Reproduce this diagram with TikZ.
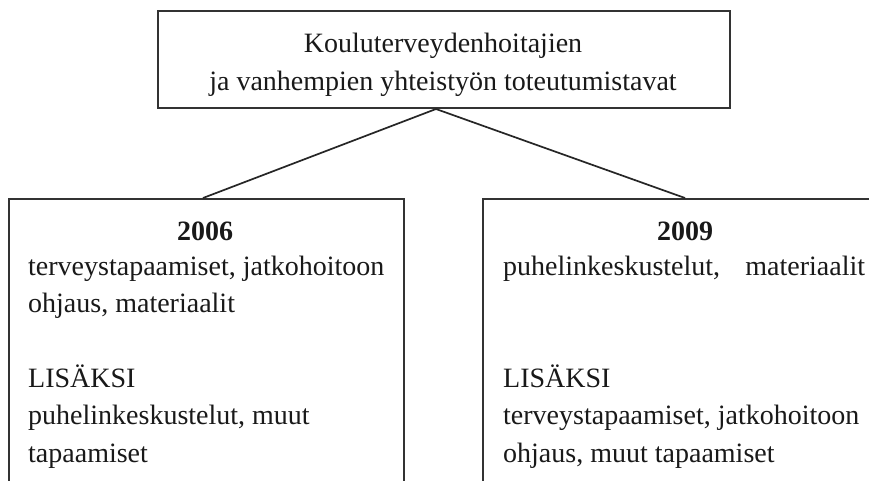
\documentclass[tikz,border=0pt]{standalone}
\usepackage{fontspec}
\setmainfont{Liberation Serif}
\usetikzlibrary{calc}
\begin{document}
\begin{tikzpicture}[x=1pt,y=-1pt,
  frame/.style={draw=black!80,line width=2pt,rectangle,inner sep=0pt},
  link/.style={draw=black!85,line width=1.7pt},
  txt/.style={inner sep=0pt,text=black!90,font=\fontsize{28}{37.3}\selectfont}]
\useasboundingbox (0,0) rectangle (869,480);
\clip (0,0) rectangle (869,480);
\fill[white] (0,0) rectangle (869,480);
\node[frame,minimum width=572pt,minimum height=97pt,anchor=north west] (top) at (157,10) {};
\node[txt,align=center,anchor=base] (toptext) at (443,90) {Kouluterveydenhoitajien\\ja vanhempien yhteistyön toteutumistavat};
\node[frame,minimum width=395pt,minimum height=340pt,anchor=north west] (lbox) at (8,198) {};
\node[frame,minimum width=420pt,minimum height=340pt,anchor=north west] (rbox) at (482,198) {};
\coordinate (apex) at ($(top.south west)+(279,0)$);
\coordinate (lend) at ($(lbox.north west)+(195,0)$);
\coordinate (rend) at ($(rbox.north west)+(203,0)$);
\draw[link] (apex) -- (lend);
\draw[link] (apex) -- (rend);
\node[txt,font=\fontsize{28}{37.3}\selectfont\bfseries,anchor=base] (lyear) at (205,240) {2006};
\node[txt,font=\fontsize{28}{37.3}\selectfont\bfseries,anchor=base] (ryear) at (685,240) {2009};
\node[txt,align=left,anchor=base west] (ltext) at (28,462) {terveystapaamiset, jatkohoitoon\\ohjaus, materiaalit\\[37.3pt]LISÄKSI\\puhelinkeskustelut, muut\\tapaamiset};
\node[txt,align=left,anchor=base west] (rtext) at (503,462) {puhelinkeskustelut,\hspace{0.65em} materiaalit\\[74.6pt]LISÄKSI\\terveystapaamiset, jatkohoitoon\\ohjaus, muut tapaamiset};
\end{tikzpicture}
\end{document}
